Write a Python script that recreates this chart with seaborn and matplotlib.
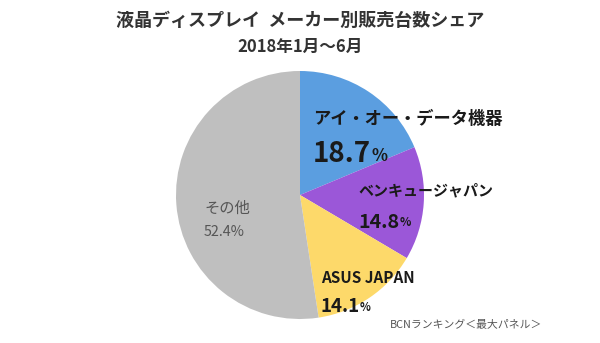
import seaborn as sns
import matplotlib.pyplot as plt

# data
labels = ['アイ・オー・データ機器', 'ベンキュージャパン', 'ASUS JAPAN', 'その他']
shares = [18.7, 14.8, 14.1, 52.4]
colors = ['#5b9ee0', '#9b57d8', '#fdd96a', '#bfbfbf']
title1 = '液晶ディスプレイ  メーカー別販売台数シェア'
title2 = '2018年1月～6月'
source = 'BCNランキング＜最大パネル＞'

sns.set_theme(style='white')
plt.rcParams['font.family'] = ['Noto Sans CJK JP', 'DejaVu Sans']

fig = plt.figure(figsize=(6, 3.43), dpi=100)
fig.patch.set_facecolor('white')

# pie axes: centre ~ (300, 195) px, radius ~ 124 px
ax = fig.add_axes([176/600, (343-195-124)/343, 248/600, 248/343])
ax.pie(shares, colors=colors, startangle=90, counterclock=False,
       wedgeprops=dict(linewidth=0))
ax.set_xlim(-1, 1)
ax.set_ylim(-1, 1)
ax.set_aspect('equal')
ax.axis('off')

fig.text(0.5, 1-20/343, title1, ha='center', va='center',
         fontsize=13, fontweight='bold', color='#333333')
fig.text(0.5, 1-47/343, title2, ha='center', va='center',
         fontsize=12, fontweight='bold', color='#333333')

# labels: (x px, name y px, value y px, name size, value size, color)
label_pos = [
    (313, 119, 154, 12.4, 20, '#1a1a1a'),
    (358, 190, 222, 10.8, 14.2, '#1a1a1a'),
    (321, 278, 307, 11, 13.5, '#1a1a1a'),
    (204, 208, 232, 11, 10.3, '#555555'),
]
for lab, val, (x, yn, yv, sn, sv, c) in zip(labels, shares, label_pos):
    w = 'normal' if lab == 'その他' else 'bold'
    fig.text(x/600, 1-yn/343, lab, ha='left', va='center',
             fontsize=sn, fontweight=w, color=c)
    if lab == 'その他':
        fig.text(x/600, 1-yv/343, f'{val}%', ha='left', va='center',
                 fontsize=sv, color=c)
    else:
        t = fig.text(x/600, 1-yv/343, f'{val}', ha='left', va='center',
                     fontsize=sv, fontweight='bold', color=c)
        ax.annotate('%', xy=(1, 0.12), xycoords=t, ha='left', va='bottom',
                    fontsize=sv*0.6, fontweight='bold', color=c)

fig.text(390/600, 1-325/343, source, ha='left', va='center',
         fontsize=7.8, color='#555555')

fig.savefig('out.png', dpi=100, facecolor='white')
